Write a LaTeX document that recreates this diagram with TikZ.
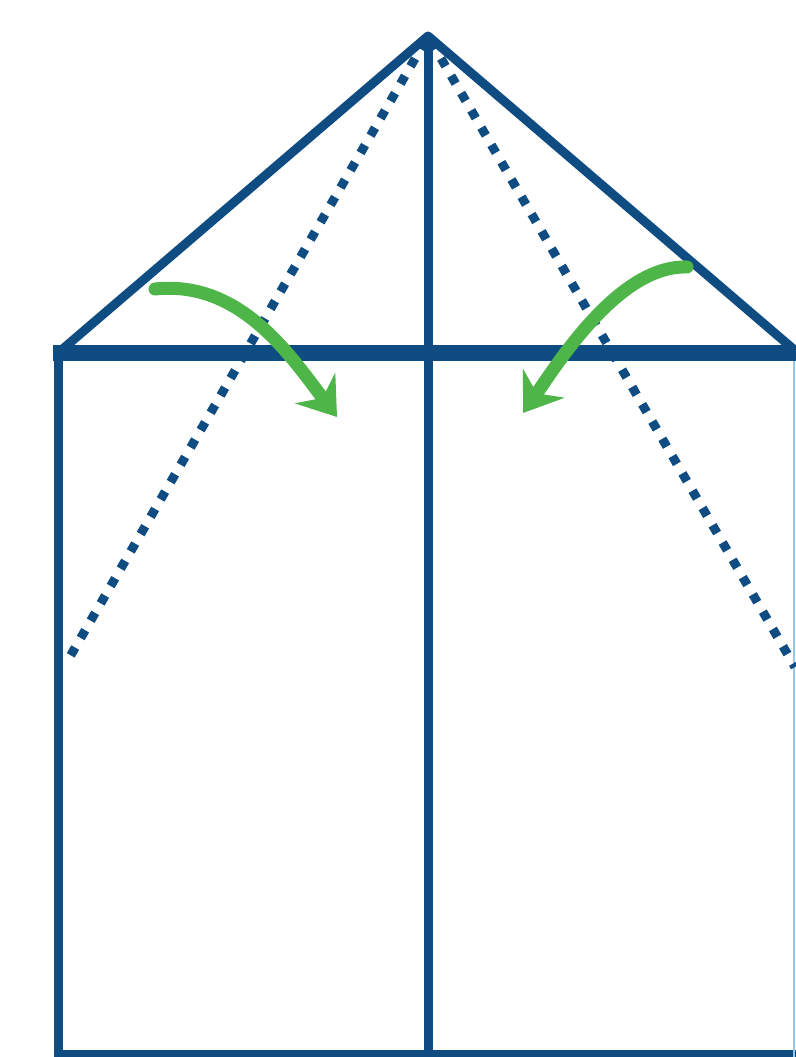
\documentclass[tikz,border=0pt]{standalone}
\usetikzlibrary{arrows.meta}
\definecolor{foldblue}{RGB}{14,76,130}
\definecolor{edgeblue}{RGB}{150,200,235}
\definecolor{foldgreen}{RGB}{78,181,72}
\tikzset{
  paperline/.style={draw=foldblue,line width=9pt,line cap=butt},
  creaseline/.style={draw=foldblue,line width=9pt,dash pattern=on 9pt off 11pt,dash phase=14pt},
  foldarrow/.style={draw=foldgreen,line width=13pt,line cap=round,
    -{Stealth[length=36pt,width=50pt,inset=12pt,fill=foldgreen]}},
}
\begin{document}
\begin{tikzpicture}[x=1pt,y=-1pt]
\useasboundingbox (0,0) rectangle (795,1057);
% key points
\coordinate (apex) at (428,36);
\coordinate (tl) at (58,353);
\coordinate (tr) at (798,353);
\coordinate (bl) at (58,1054);
\coordinate (br) at (798,1054);
\coordinate (cb) at (428,1057);
\coordinate (dl) at (68,660);
\coordinate (dr) at (795,667);
% outer paper
\draw[paperline] (tl) -- (bl) -- (br);
\draw[draw=edgeblue,line width=2pt] (794,353) -- (794,1057);
% centre crease
\draw[paperline] (apex) -- (cb);
% crease lines
\draw[creaseline] (apex) -- (dl);
\draw[creaseline] (apex) -- (dr);
% roof
\draw[paperline,line join=round] (tl) -- (apex) -- (tr);
% horizontal fold
\draw[draw=foldblue,line width=16pt] (53,353) -- (tr);
% arrows
\coordinate (la0) at (155,289);
\coordinate (la1) at (337,417);
\coordinate (ra0) at (687,267);
\coordinate (ra1) at (523,413);
\draw[foldarrow] (la0) .. controls (240,280) and (290,355) .. (la1);
\draw[foldarrow] (ra0) .. controls (620,265) and (560,360) .. (ra1);
\end{tikzpicture}
\end{document}
